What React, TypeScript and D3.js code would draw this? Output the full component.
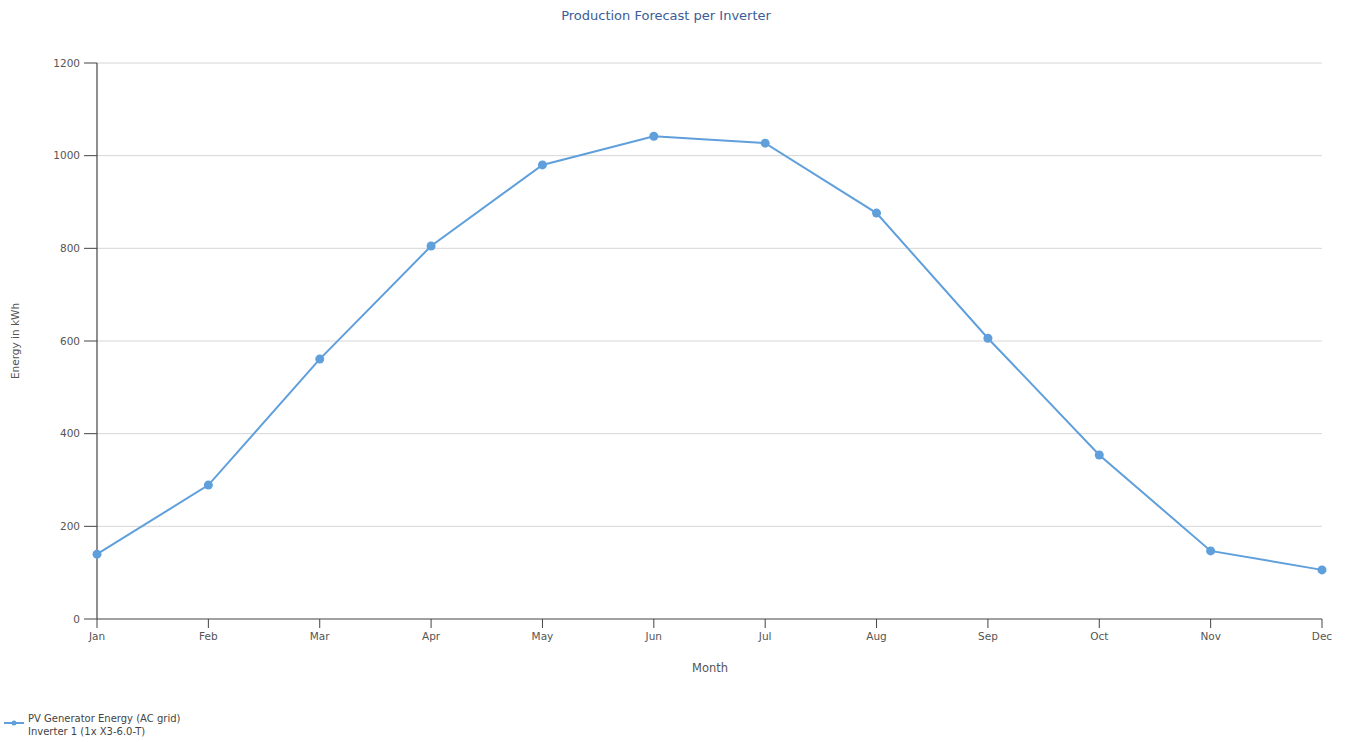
import React from "react";
import * as d3 from "d3";

const months = ["Jan", "Feb", "Mar", "Apr", "May", "Jun", "Jul", "Aug", "Sep", "Oct", "Nov", "Dec"];
const energy = [140, 289, 561, 805, 980, 1042, 1027, 876, 606, 354, 147, 106];
const yTicks = [0, 200, 400, 600, 800, 1000, 1200];
const seriesName = "PV Generator Energy (AC grid)";
const seriesSub = "Inverter 1 (1x X3-6.0-T)";

const W = 1349, H = 742;
const left = 97, right = 1322, top = 63, bottom = 619;
const FONT = "'DejaVu Sans', Verdana, sans-serif";
const LINE = "#5f9fdb";

export default function App() {
  const x = d3.scalePoint<string>().domain(months).range([left, right]);
  const y = d3.scaleLinear().domain([0, 1200]).range([bottom, top]);
  const line = d3.line<number>().x((_, i) => x(months[i])!).y((d) => y(d));

  return (
    <svg width={W} height={H} style={{ position: "absolute", left: 0, top: 0, background: "#fff" }} fontFamily={FONT}>
      <text x={666} y={20} textAnchor="middle" fontSize={13} fill="#3a5d96">Production Forecast per Inverter</text>
      {yTicks.map((t) => (
        <g key={t}>
          {t > 0 && <line x1={left} x2={right} y1={y(t)} y2={y(t)} stroke="#d6d6d6" strokeWidth={1} />}
          <line x1={84} x2={left} y1={y(t)} y2={y(t)} stroke="#444" strokeWidth={1} />
          <text x={80} y={y(t)} dy="0.35em" textAnchor="end" fontSize={10.5} fill="#555">{t}</text>
        </g>
      ))}
      <line x1={left} x2={left} y1={top} y2={bottom} stroke="#444" strokeWidth={1.2} />
      <line x1={left} x2={right} y1={bottom} y2={bottom} stroke="#444" strokeWidth={1.2} />
      {months.map((m) => (
        <g key={m}>
          <line x1={x(m)} x2={x(m)} y1={bottom} y2={bottom + 9} stroke="#444" strokeWidth={1} />
          <text x={x(m)} y={640} textAnchor="middle" fontSize={10.5} fill="#555">{m}</text>
        </g>
      ))}
      <text x={710} y={672} textAnchor="middle" fontSize={11.5} fill="#555">Month</text>
      <text transform={`translate(19,341) rotate(-90)`} textAnchor="middle" fontSize={10.5} fill="#555">Energy in kWh</text>
      <path d={line(energy) ?? ""} fill="none" stroke={LINE} strokeWidth={2} />
      {energy.map((v, i) => (
        <circle key={i} cx={x(months[i])} cy={y(v)} r={4.5} fill={LINE} />
      ))}
      <line x1={4} x2={24} y1={723} y2={723} stroke={LINE} strokeWidth={2} />
      <circle cx={14} cy={723} r={2.5} fill={LINE} />
      <text x={28} y={722} fontSize={10} fill="#444">{seriesName}</text>
      <text x={28} y={735} fontSize={10} fill="#444">{seriesSub}</text>
    </svg>
  );
}
